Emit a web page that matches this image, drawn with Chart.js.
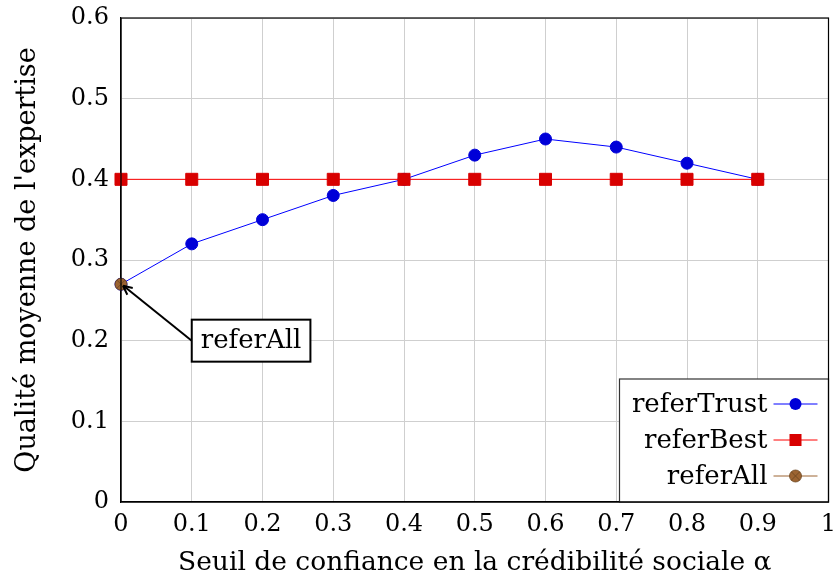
<!DOCTYPE html>
<html lang="fr">
<head>
<meta charset="UTF-8">
<title>Qualité moyenne de l'expertise</title>
<script src="https://cdn.jsdelivr.net/npm/chart.js"></script>
<style>
  body { margin: 0; background: #fff; }
  #wrap { width: 838px; height: 583px; }
</style>
</head>
<body>
<div id="wrap"><canvas id="c"></canvas></div>
<script>
const xValues = [0, 0.1, 0.2, 0.3, 0.4, 0.5, 0.6, 0.7, 0.8, 0.9];
const referTrust = [0.27, 0.32, 0.35, 0.38, 0.40, 0.43, 0.45, 0.44, 0.42, 0.40];
const referBest = [0.40, 0.40, 0.40, 0.40, 0.40, 0.40, 0.40, 0.40, 0.40, 0.40];
const referAllX = [0];
const referAll = [0.27];
const xTicks = [0, 0.1, 0.2, 0.3, 0.4, 0.5, 0.6, 0.7, 0.8, 0.9, 1];
const yTicks = [0, 0.1, 0.2, 0.3, 0.4, 0.5, 0.6];
const noteText = 'referAll';
const notePoint = [0, 0.27];
const noteBox = [0.1, 0.2];

const FONT = "'DejaVu Serif', serif";

function pts(xs, ys) {
  return xs.map((x, i) => ({ x: x, y: ys[i] }));
}

// draws an "otimes" style marker: filled circle with a cross
function drawOtimes(ctx, x, y, r, fill) {
  ctx.save();
  ctx.beginPath();
  ctx.arc(x, y, r, 0, Math.PI * 2);
  ctx.fillStyle = fill;
  ctx.fill();
  ctx.strokeStyle = '#6b4520';
  ctx.lineWidth = 0.8;
  ctx.stroke();
  const d = r * 0.7;
  ctx.beginPath();
  ctx.moveTo(x - d, y - d); ctx.lineTo(x + d, y + d);
  ctx.moveTo(x - d, y + d); ctx.lineTo(x + d, y - d);
  ctx.stroke();
  ctx.restore();
}

const extras = {
  id: 'extras',
  afterDatasetsDraw(chart) {
    const ctx = chart.ctx;
    const xs = chart.scales.x, ys = chart.scales.y;
    const ca = chart.chartArea;

    // otimes marker for referAll
    const p0 = chart.getDatasetMeta(2).data[0];
    drawOtimes(ctx, p0.x, p0.y, 6, '#9c6432');

    // annotation with arrow
    const px = xs.getPixelForValue(notePoint[0]), py = ys.getPixelForValue(notePoint[1]);
    const bx = xs.getPixelForValue(noteBox[0]), by = ys.getPixelForValue(noteBox[1]);
    ctx.save();
    ctx.font = '26px ' + FONT;
    const tw = ctx.measureText(noteText).width;
    const bw = tw + 18, bh = 42;
    ctx.strokeStyle = '#000';
    ctx.lineWidth = 2;
    ctx.beginPath();
    ctx.moveTo(bx, by);
    ctx.lineTo(px + 3, py + 2);
    ctx.stroke();
    // arrow head
    const ang = Math.atan2(py - by, px - bx);
    ctx.beginPath();
    ctx.moveTo(px + 2, py + 1.5);
    ctx.lineTo(px + 2 - 10 * Math.cos(ang - 0.45), py + 1.5 - 10 * Math.sin(ang - 0.45));
    ctx.moveTo(px + 2, py + 1.5);
    ctx.lineTo(px + 2 - 10 * Math.cos(ang + 0.45), py + 1.5 - 10 * Math.sin(ang + 0.45));
    ctx.stroke();
    ctx.fillStyle = '#fff';
    ctx.fillRect(bx, by - bh / 2, bw, bh);
    ctx.strokeRect(bx, by - bh / 2, bw, bh);
    ctx.fillStyle = '#000';
    ctx.textBaseline = 'middle';
    ctx.textAlign = 'left';
    ctx.fillText(noteText, bx + 9, by + 1);
    ctx.restore();

    // legend inside plot, bottom right
    const lw = 209, lh = 123;
    const lx = ca.right - lw, ly = ca.bottom - lh;
    ctx.save();
    ctx.fillStyle = '#fff';
    ctx.fillRect(lx, ly, lw, lh);
    ctx.strokeStyle = '#333';
    ctx.lineWidth = 1.2;
    ctx.strokeRect(lx, ly, lw, lh);
    ctx.font = '26px ' + FONT;
    ctx.textAlign = 'right';
    ctx.textBaseline = 'middle';
    chart.data.datasets.forEach((ds, i) => {
      const rowY = ly + 25 + i * 36;
      ctx.fillStyle = '#000';
      ctx.fillText(ds.label, lx + 148, rowY + 1);
      ctx.strokeStyle = ds.borderColor;
      ctx.lineWidth = 1;
      ctx.beginPath();
      ctx.moveTo(lx + 154, rowY);
      ctx.lineTo(lx + 198, rowY);
      ctx.stroke();
      const mx = lx + 176;
      if (ds.pointStyle === 'rect') {
        ctx.fillStyle = ds.pointBackgroundColor;
        ctx.fillRect(mx - 6, rowY - 6, 12, 12);
      } else if (i === 2) {
        drawOtimes(ctx, mx, rowY, 6, '#9c6432');
      } else {
        ctx.fillStyle = ds.pointBackgroundColor;
        ctx.beginPath();
        ctx.arc(mx, rowY, 6, 0, Math.PI * 2);
        ctx.fill();
      }
    });
    ctx.restore();
  }
};

new Chart(document.getElementById('c'), {
  type: 'scatter',
  data: {
    datasets: [
      {
        label: 'referTrust',
        data: pts(xValues, referTrust),
        order: 2,
        showLine: true,
        borderColor: '#0000ff',
        borderWidth: 1,
        pointBackgroundColor: '#0000d8',
        pointBorderColor: '#0000d8',
        pointStyle: 'circle',
        pointRadius: 6,
        clip: false
      },
      {
        label: 'referBest',
        data: pts(xValues, referBest),
        order: 1,
        showLine: true,
        borderColor: '#ff0000',
        borderWidth: 1,
        pointBackgroundColor: '#d80000',
        pointBorderColor: '#d80000',
        pointStyle: 'rect',
        pointRadius: 8.5,
        clip: false
      },
      {
        label: 'referAll',
        data: pts(referAllX, referAll),
        order: 0,
        showLine: true,
        borderColor: '#9c6432',
        borderWidth: 1,
        pointBackgroundColor: '#9c6432',
        pointRadius: 0,
        clip: false
      }
    ]
  },
  options: {
    responsive: true,
    maintainAspectRatio: false,
    animation: false,
    layout: { padding: { top: 18, right: 1, left: 0, bottom: 0 } },
    plugins: {
      legend: { display: false },
      tooltip: { enabled: false }
    },
    scales: {
      x: {
        type: 'linear',
        min: 0,
        max: 1,
        afterBuildTicks: s => { s.ticks = xTicks.map(v => ({ value: v })); },
        afterFit: s => { s.height = 81; s.paddingLeft = 0; s.paddingRight = 0; },
        ticks: {
          color: '#000',
          font: { family: FONT, size: 24 },
          padding: 8,
          maxRotation: 0,
          autoSkip: false,
          callback: v => String(+v.toFixed(1))
        },
        grid: { color: '#cfcfcf', drawTicks: false, lineWidth: 1 },
        border: { color: '#000', width: 1.2 },
        title: {
          display: true,
          text: 'Seuil de confiance en la crédibilité sociale α',
          color: '#000',
          font: { family: FONT, size: 26.5 },
          padding: { top: 8 }
        }
      },
      y: {
        type: 'linear',
        min: 0,
        max: 0.6,
        afterBuildTicks: s => { s.ticks = yTicks.map(v => ({ value: v })); },
        afterFit: s => { s.width = 121; s.paddingTop = 0; s.paddingBottom = 0; },
        ticks: {
          color: '#000',
          font: { family: FONT, size: 24 },
          padding: 12,
          autoSkip: false,
          callback: v => String(+v.toFixed(1))
        },
        grid: { color: '#cfcfcf', drawTicks: false, lineWidth: 1 },
        border: { color: '#000', width: 1.2 },
        title: {
          display: true,
          text: "Qualité moyenne de l'expertise",
          color: '#000',
          font: { family: FONT, size: 27 },
          padding: { top: 12, bottom: 4 }
        }
      }
    }
  },
  plugins: [extras, {
    id: 'frame',
    afterDraw(chart) {
      const { ctx, chartArea: a } = chart;
      ctx.save();
      ctx.strokeStyle = '#000';
      ctx.lineWidth = 1.2;
      ctx.strokeRect(a.left, a.top, a.right - a.left, a.bottom - a.top);
      ctx.restore();
    }
  }]
});
</script>
</body>
</html>
